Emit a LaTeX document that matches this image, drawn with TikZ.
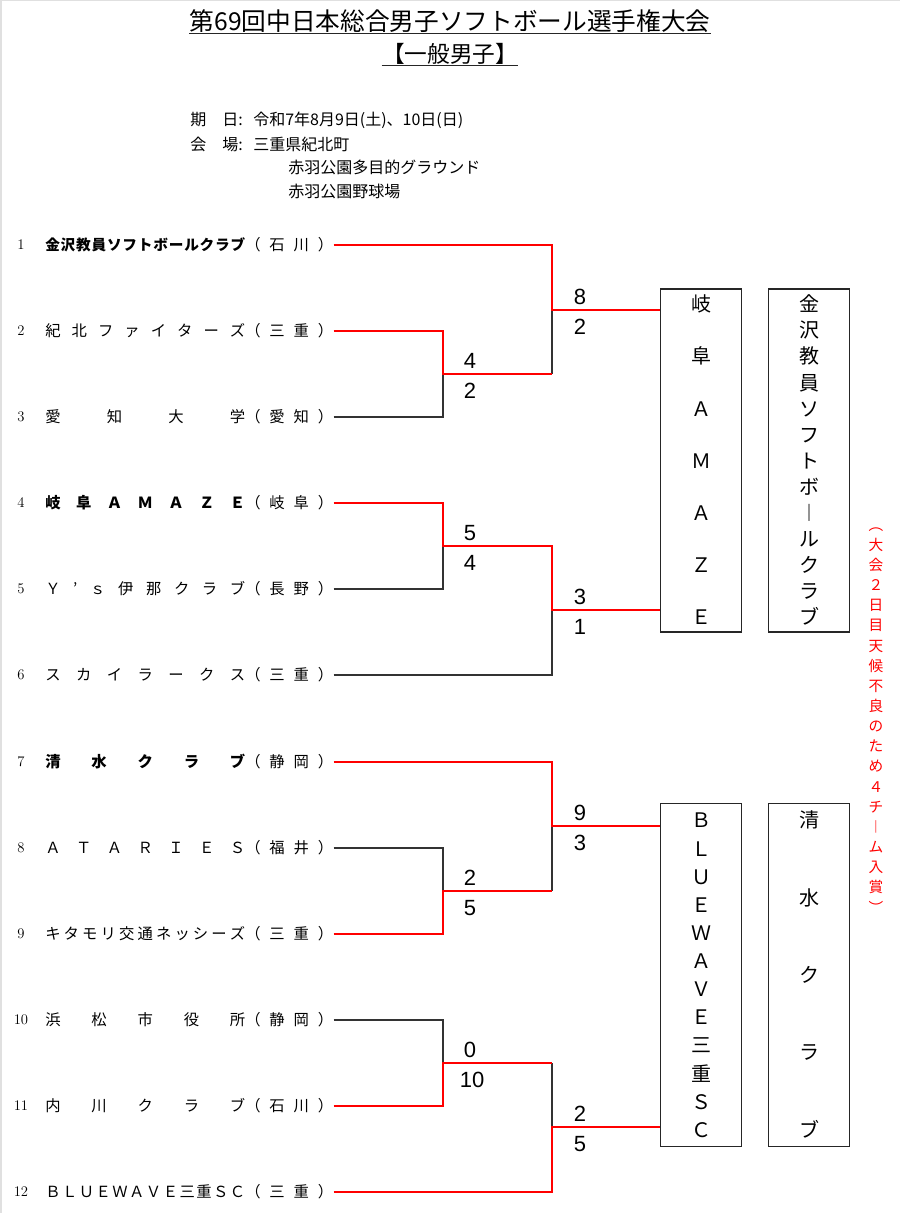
\documentclass[tikz,border=0pt]{standalone}
\usepackage{fontspec}
\newfontfamily\jp{Noto Sans CJK JP}
\newfontfamily\digits{Liberation Sans}
\usetikzlibrary{positioning}

\newlength\px
\setlength\px{0.75pt}

% text spread evenly over a fixed width / height
\newcommand\spread[2]{\makebox[#1][s]{\spreadfirst#2\relax}}
\def\spreadfirst#1{#1\spreadrest}
\def\spreadrest#1{\ifx\relax#1\else\hfill#1\expandafter\spreadrest\fi}
\newcommand\vcell[1]{\hbox to 0pt{\hss\rule[-.12em]{0pt}{1em}#1\hss}}
\newcommand\vspread[2]{\vbox to #1{\offinterlineskip\vfirst#2\relax}}
\def\vfirst#1{\vcell{#1}\vrest}
\def\vrest#1{\ifx\relax#1\else\vfill\vcell{#1}\expandafter\vrest\fi}

\begin{document}
\begin{tikzpicture}[x=0.75pt, y=-0.75pt,
  head/.style={inner xsep=0, inner ysep=1\px, font=\jp\fontsize{18.5}{20}\selectfont},
  uline/.style={draw=black!85, line width=1.3\px},
  info/.style={anchor=west, inner sep=0, font=\jp\fontsize{12}{13}\selectfont},
  num/.style={inner sep=0, font=\fontsize{11}{12}\selectfont},
  team/.style={anchor=west, inner sep=0, font=\jp\fontsize{11.5}{13}\selectfont},
  score/.style={inner sep=0, font=\digits\fontsize{16.5}{18}\selectfont},
  final/.style={draw=black!85, line width=1.8\px, minimum width=81\px, minimum height=343\px, inner sep=0, font=\jp\fontsize{15}{15}\selectfont},
  note/.style={inner sep=0, text=red, font=\jp\fontsize{11}{11}\selectfont},
  loss/.style={draw=black!80, line width=1.1\px},
  win/.style={draw=red, line width=1.5\px}]
\useasboundingbox (0,0) rectangle (900,1213);
\draw[black!12, line width=3\px] (0,1213) -- (0,0) -- (900,0);

% heading
\node[head] (ttl) at (450,21) {第69回中日本総合男子ソフトボール選手権大会};
\node[head, font=\jp\fontsize{17}{18}\selectfont] (sub) at (450,54) {【一般男子】};
\draw[uline] (ttl.south west) -- (ttl.south east);
\draw[uline] (sub.south west) -- (sub.south east);

\node[info] (kday) at (190,120) {期　日:};
\node[info, right=10\px of kday] (day) {令和7年8月9日(土)、10日(日)};
\node[info] (kven) at (190,144) {会　場:};
\node[info, right=10\px of kven] (ven) {三重県紀北町};
\node[info] (ven2) at (288,167) {赤羽公園多目的グラウンド};
\node[info] (ven3) at (288,191) {赤羽公園野球場};

% teams
\node[num] (n1) at (21,245) {1};
\node[team] (t1) at (45,245) {\textbf{\fontsize{11}{13}\selectfont\spread{200\px}{金沢教員ソフトボールクラブ}}\spread{88\px}{（石川）}};
\node[num] (n2) at (21,331) {2};
\node[team] (t2) at (45,331) {\spread{200\px}{紀北ファイターズ}\spread{88\px}{（三重）}};
\node[num] (n3) at (21,417) {3};
\node[team] (t3) at (45,417) {\spread{200\px}{愛知大学}\spread{88\px}{（愛知）}};
\node[num] (n4) at (21,503) {4};
\node[team] (t4) at (45,503) {\textbf{\spread{200\px}{岐阜ＡＭＡＺＥ}}\spread{88\px}{（岐阜）}};
\node[num] (n5) at (21,589) {5};
\node[team] (t5) at (45,589) {\spread{200\px}{Ｙ’ｓ伊那クラブ}\spread{88\px}{（長野）}};
\node[num] (n6) at (21,675) {6};
\node[team] (t6) at (45,675) {\spread{200\px}{スカイラークス}\spread{88\px}{（三重）}};
\node[num] (n7) at (21,762) {7};
\node[team] (t7) at (45,762) {\textbf{\spread{200\px}{清水クラブ}}\spread{88\px}{（静岡）}};
\node[num] (n8) at (21,848) {8};
\node[team] (t8) at (45,848) {\spread{200\px}{ＡＴＡＲＩＥＳ}\spread{88\px}{（福井）}};
\node[num] (n9) at (21,934) {9};
\node[team] (t9) at (45,934) {\spread{200\px}{キタモリ交通ネッシーズ}\spread{88\px}{（三重）}};
\node[num] (n10) at (21,1020) {10};
\node[team] (t10) at (45,1020) {\spread{200\px}{浜松市役所}\spread{88\px}{（静岡）}};
\node[num] (n11) at (21,1106) {11};
\node[team] (t11) at (45,1106) {\spread{200\px}{内川クラブ}\spread{88\px}{（石川）}};
\node[num] (n12) at (21,1192) {12};
\node[team] (t12) at (45,1192) {\spread{200\px}{ＢＬＵＥＷＡＶＥ三重ＳＣ}\spread{88\px}{（三重）}};

% junctions
\coordinate (p23) at (443,374);
\coordinate (p45) at (443,546);
\coordinate (p89) at (443,891);
\coordinate (p1011) at (443,1063);
\coordinate (q1) at (552,310);
\coordinate (q2) at (552,610);
\coordinate (q3) at (552,826);
\coordinate (q4) at (552,1127);

% placed teams
\node[final] (b1) at (701,460.5) {\vspread{330\px}{岐阜ＡＭＡＺＥ}};
\node[final] (b2) at (809,460.5) {\vspread{330\px}{金沢教員ソフトボ︱ルクラブ}};
\node[final] (b3) at (701,975) {\vspread{327\px}{ＢＬＵＥＷＡＶＥ三重ＳＣ}};
\node[final] (b4) at (809,975) {\vspread{327\px}{清水クラブ}};
\node[note] (rem) at (876,716) {\vspread{396\px}{︵大会２日目天候不良のため４チ︱ム入賞︶}};

% losing lines
\draw[loss] (t3.east) -| (p23);
\draw[loss] (p23 -| q1) -- (q1);
\draw[loss] (t5.east) -| (p45);
\draw[loss] (t6.east) -| (q2);
\draw[loss] (t8.east) -| (p89);
\draw[loss] (p89 -| q3) -- (q3);
\draw[loss] (t10.east) -| (p1011);
\draw[loss] (p1011 -| q4) -- (q4);

% winning lines
\draw[win] (t1.east) -| (q1) -- (b1.west |- q1);
\draw[win] (t2.east) -| (p23) -- (p23 -| q1);
\draw[win] (t4.east) -| (p45) -- (p45 -| q2) -- (q2) -- (b1.west |- q2);
\draw[win] (t7.east) -| (q3) -- (b3.west |- q3);
\draw[win] (t9.east) -| (p89) -- (p89 -| q3);
\draw[win] (t11.east) -| (p1011) -- (p1011 -| q4);
\draw[win] (t12.east) -| (q4) -- (b3.west |- q4);

% scores
\node[score, above=5\px of p23, xshift=27\px] (s23a) {4};
\node[score, below=9\px of p23, xshift=27\px] (s23b) {2};
\node[score, above=5\px of q1, xshift=28\px] (s1a) {8};
\node[score, below=9\px of q1, xshift=28\px] (s1b) {2};
\node[score, above=5\px of p45, xshift=27\px] (s45a) {5};
\node[score, below=9\px of p45, xshift=27\px] (s45b) {4};
\node[score, above=5\px of q2, xshift=28\px] (s2a) {3};
\node[score, below=9\px of q2, xshift=28\px] (s2b) {1};
\node[score, above=5\px of q3, xshift=28\px] (s3a) {9};
\node[score, below=9\px of q3, xshift=28\px] (s3b) {3};
\node[score, above=5\px of p89, xshift=27\px] (s89a) {2};
\node[score, below=9\px of p89, xshift=27\px] (s89b) {5};
\node[score, above=5\px of p1011, xshift=27\px] (s1011a) {0};
\node[score, below=9\px of p1011, xshift=29\px] (s1011b) {10};
\node[score, above=5\px of q4, xshift=28\px] (s4a) {2};
\node[score, below=9\px of q4, xshift=28\px] (s4b) {5};
\end{tikzpicture}
\end{document}
